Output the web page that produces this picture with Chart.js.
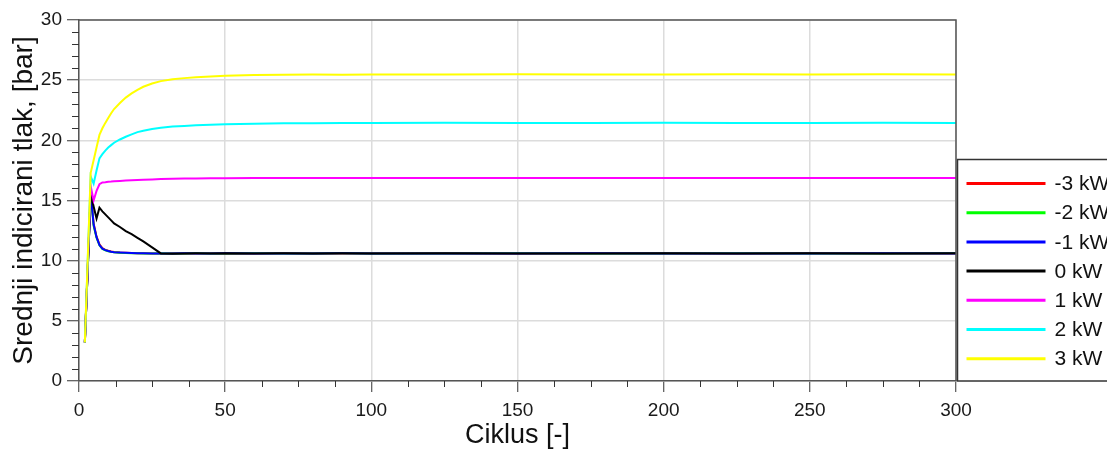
<!DOCTYPE html>
<html>
<head>
<meta charset="utf-8">
<script src="https://cdn.jsdelivr.net/npm/chart.js@4"></script>
<style>
  html, body { margin: 0; padding: 0; background: #fff; overflow: hidden; }
  #wrap { width: 1107px; height: 452px; position: relative; }
</style>
</head>
<body>
<div id="wrap"><canvas id="tlakchart"></canvas></div>
<script>
// ciklusi (x) where the curves were read
var cycles = [2, 4, 5, 6, 7, 8, 9, 10, 11, 12, 14, 16, 18, 20, 22, 25, 28, 32, 36, 40, 45, 50, 60, 70, 80, 90, 100, 125, 150, 175, 200, 225, 250, 275, 300];

var seriesNames = ["-3 kW", "-2 kW", "-1 kW", "0 kW", "1 kW", "2 kW", "3 kW"];
var seriesColors = ["#ff0000", "#00ff00", "#0000ff", "#000000", "#ff00ff", "#00ffff", "#ffff00"];

var minus3kW = [3.2, 15.6, 13.1, 12.0, 11.35, 11.05, 10.9, 10.82, 10.76, 10.72, 10.68, 10.66, 10.64, 10.62, 10.61, 10.6, 10.6, 10.61, 10.6, 10.6, 10.61, 10.6, 10.6, 10.61, 10.6, 10.6, 10.61, 10.6, 10.6, 10.61, 10.6, 10.6, 10.61, 10.6, 10.6];
var minus2kW = [3.2, 15.6, 12.9, 11.9, 11.28, 10.98, 10.86, 10.79, 10.73, 10.7, 10.66, 10.64, 10.62, 10.61, 10.6, 10.6, 10.61, 10.6, 10.6, 10.61, 10.6, 10.6, 10.61, 10.6, 10.6, 10.61, 10.6, 10.6, 10.61, 10.6, 10.6, 10.61, 10.6, 10.6, 10.61];
var minus1kW = [3.2, 15.6, 13.0, 11.95, 11.3, 11.0, 10.88, 10.8, 10.74, 10.7, 10.67, 10.65, 10.63, 10.62, 10.61, 10.6, 10.6, 10.6, 10.61, 10.6, 10.6, 10.61, 10.6, 10.6, 10.6, 10.61, 10.6, 10.6, 10.6, 10.61, 10.6, 10.6, 10.6, 10.61, 10.6];
var zerokW = [3.2, 15.6, 14.5, 13.5, 14.4, 14.1, 13.85, 13.6, 13.35, 13.1, 12.8, 12.45, 12.2, 11.9, 11.6, 11.1, 10.6, 10.58, 10.6, 10.61, 10.6, 10.62, 10.6, 10.61, 10.6, 10.62, 10.6, 10.61, 10.6, 10.6, 10.62, 10.6, 10.61, 10.6, 10.61];
var plus1kW = [3.2, 16.2, 15.0, 15.8, 16.35, 16.5, 16.52, 16.55, 16.57, 16.6, 16.63, 16.66, 16.68, 16.7, 16.72, 16.75, 16.78, 16.8, 16.82, 16.83, 16.84, 16.85, 16.86, 16.86, 16.87, 16.86, 16.88, 16.87, 16.86, 16.88, 16.87, 16.87, 16.86, 16.88, 16.87];
var plus2kW = [3.2, 17.0, 16.4, 17.5, 18.5, 18.85, 19.15, 19.4, 19.6, 19.8, 20.07, 20.3, 20.5, 20.68, 20.8, 20.95, 21.05, 21.14, 21.2, 21.25, 21.29, 21.33, 21.38, 21.41, 21.43, 21.45, 21.44, 21.46, 21.45, 21.44, 21.46, 21.45, 21.44, 21.46, 21.45];
var plus3kW = [3.2, 17.3, 18.35, 19.4, 20.45, 21.0, 21.45, 21.85, 22.25, 22.6, 23.1, 23.55, 23.9, 24.2, 24.45, 24.72, 24.92, 25.07, 25.17, 25.25, 25.31, 25.36, 25.42, 25.45, 25.47, 25.46, 25.48, 25.47, 25.49, 25.48, 25.48, 25.49, 25.47, 25.49, 25.48];

var seriesValues = [minus3kW, minus2kW, minus1kW, zerokW, plus1kW, plus2kW, plus3kW];

var xTicks = [0, 50, 100, 150, 200, 250, 300];
var yTicks = [0, 5, 10, 15, 20, 25, 30];

var fontFamily = "'Liberation Sans', Arial, sans-serif";

function toPoints(values) {
	return values.map(function(v, i) { return { x: cycles[i], y: v }; });
}

var datasets = seriesValues.map(function(values, i) {
	return {
		label: seriesNames[i],
		data: toPoints(values),
		borderColor: seriesColors[i],
		backgroundColor: seriesColors[i],
		borderWidth: 2,
		pointRadius: 0,
		tension: 0,
		fill: false,
		order: seriesValues.length - 1 - i   // later series drawn on top
	};
});

// frame, minor ticks and the boxed legend at the right
var extras = {
	id: 'extras',
	afterDraw: function(chart) {
		var ctx = chart.ctx;
		var a = chart.chartArea;
		var xs = chart.scales.x, ys = chart.scales.y;
		ctx.save();

		ctx.strokeStyle = '#555';
		ctx.lineWidth = 1.5;
		ctx.beginPath();
		ctx.moveTo(a.left, a.top);
		ctx.lineTo(a.right, a.top);
		ctx.lineTo(a.right, a.bottom);
		ctx.stroke();

		ctx.strokeStyle = '#333';
		ctx.lineWidth = 1;
		ctx.beginPath();
		for (var v = 1; v < 30; v++) {
			if (v % 5 === 0) continue;
			var py = Math.round(ys.getPixelForValue(v)) + 0.5;
			ctx.moveTo(a.left - 7, py);
			ctx.lineTo(a.left, py);
		}
		for (var c = 12.5; c < 300; c += 12.5) {
			if (c % 50 === 0) continue;
			var px = Math.round(xs.getPixelForValue(c)) + 0.5;
			ctx.moveTo(px, a.bottom);
			ctx.lineTo(px, a.bottom + 6);
		}
		ctx.stroke();

		// legend box
		var left = a.right + 1.5, top = 159.5;
		ctx.fillStyle = '#fff';
		ctx.fillRect(left, top, chart.width - left + 10, a.bottom - top);
		ctx.strokeStyle = '#333';
		ctx.lineWidth = 1.5;
		ctx.strokeRect(left, top, chart.width - left + 10, a.bottom - top);
		ctx.font = '21px ' + fontFamily;
		ctx.textBaseline = 'middle';
		ctx.textAlign = 'left';
		chart.data.datasets.forEach(function(ds, i) {
			var yy = 183.5 + i * 29.2;
			ctx.strokeStyle = ds.borderColor;
			ctx.lineWidth = 3;
			ctx.beginPath();
			ctx.moveTo(left + 9, yy);
			ctx.lineTo(left + 88, yy);
			ctx.stroke();
			ctx.fillStyle = '#111';
			ctx.fillText(ds.label, left + 97, yy + 1);
		});
		ctx.restore();
	}
};

var tlakchart = {
	type: 'line',
	data: { datasets: datasets },
	options: {
		responsive: true,
		maintainAspectRatio: false,
		animation: false,
		layout: { padding: { top: 20, right: 151, left: 0, bottom: 0 } },
		plugins: {
			legend: { display: false },
			tooltip: { enabled: false }
		},
		scales: {
			x: {
				type: 'linear',
				min: 0,
				max: 300,
				afterBuildTicks: function(s) { s.ticks = xTicks.map(function(v) { return { value: v }; }); },
				afterFit: function(s) { s.height = 71; },
				ticks: {
					color: '#1a1a1a',
					padding: 7,
					maxRotation: 0,
					font: { family: fontFamily, size: 19 }
				},
				grid: {
					color: '#dcdcdc',
					lineWidth: 1.5,
					tickLength: 11,
					tickColor: '#333',
					tickWidth: 1
				},
				border: { color: '#555', width: 1.5 },
				title: {
					display: true,
					text: 'Ciklus [-]',
					color: '#111',
					font: { family: fontFamily, size: 27 },
					padding: { top: 0, bottom: 0 }
				}
			},
			y: {
				min: 0,
				max: 30,
				afterBuildTicks: function(s) { s.ticks = yTicks.map(function(v) { return { value: v }; }); },
				afterFit: function(s) { s.width = 79; },
				ticks: {
					color: '#1a1a1a',
					padding: 5,
					font: { family: fontFamily, size: 19 }
				},
				grid: {
					color: '#dcdcdc',
					lineWidth: 1.5,
					tickLength: 12,
					tickColor: '#333',
					tickWidth: 1
				},
				border: { color: '#555', width: 1.5 },
				title: {
					display: true,
					text: 'Srednji indicirani tlak, [bar]',
					color: '#111',
					font: { family: fontFamily, size: 28 },
					padding: { top: 7, bottom: 0 }
				}
			}
		}
	},
	plugins: [extras]
};

window.onload = function() {
	var ctx = document.getElementById("tlakchart").getContext("2d");
	window.myTlak = new Chart(ctx, tlakchart);
};
</script>
</body>
</html>
